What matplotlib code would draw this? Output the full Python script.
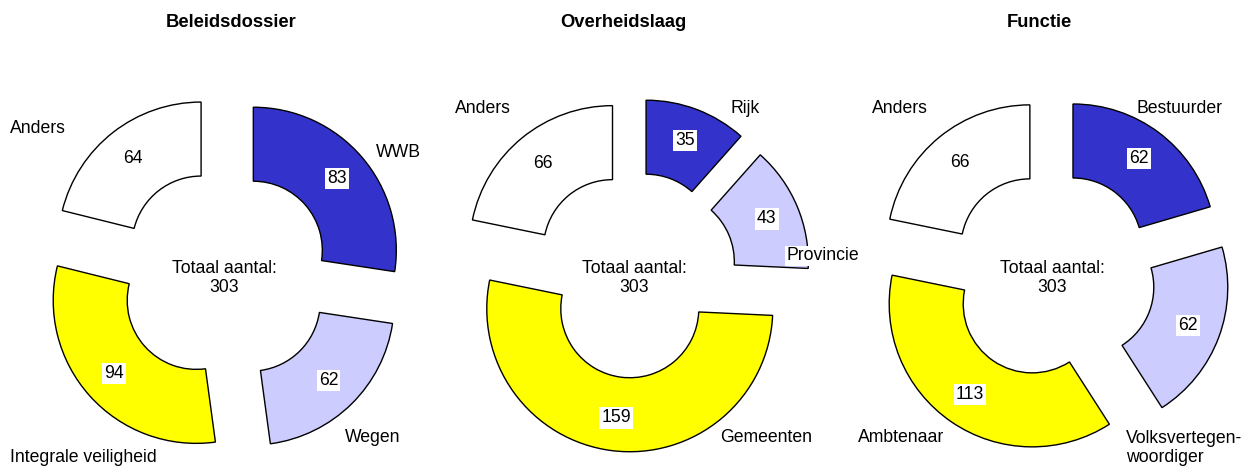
import matplotlib.pyplot as plt

plt.rcParams['font.family'] = ['Liberation Sans', 'DejaVu Sans']

titles = ['Beleidsdossier', 'Overheidslaag', 'Functie']

labels_1 = ['WWB', 'Wegen', 'Integrale veiligheid', 'Anders']
values_1 = [83, 62, 94, 64]

labels_2 = ['Rijk', 'Provincie', 'Gemeenten', 'Anders']
values_2 = [35, 43, 159, 66]

labels_3 = ['Bestuurder', 'Volksvertegen-\nwoordiger', 'Ambtenaar', 'Anders']
values_3 = [62, 62, 113, 66]

colors = ['#3333CC', '#CCCCFF', '#FFFF00', '#FFFFFF']

W, H = 1257, 469
fig = plt.figure(figsize=(W / 100, H / 100), dpi=100)
ax = fig.add_axes([0, 0, 1, 1])

# layout in pixel units (y measured from the top of the image)
centers = [(224.5, 275), (634, 275), (1052, 275)]
explodes = [38, 34, 35]
title_x = [231, 623, 1039]
label_pos = [
    [(376, 152), (345, 437), (10, 457), (10, 128)],
    [(731, 108), (786, 256), (720, 437), (455, 108)],
    [(1137, 108), (1126, 448), (858, 437), (872, 108)],
]
radius = 143
ring = 74
fs = 12.7

datasets = [(labels_1, values_1), (labels_2, values_2), (labels_3, values_3)]

for i, (labels, values) in enumerate(datasets):
    cx, cy = centers[i]
    total = sum(values)
    wedges, texts, autotexts = ax.pie(
        values, colors=colors, startangle=90, counterclock=False,
        center=(cx, H - cy), radius=radius, explode=[explodes[i]] * len(values),
        wedgeprops=dict(width=ring, edgecolor='black', linewidth=1),
        autopct=lambda p, t=total: f'{round(p * t / 100):d}', pctdistance=0.77,
        textprops=dict(fontsize=fs),
    )
    for t in autotexts:
        t.set_bbox(dict(facecolor='white', edgecolor='none', pad=1.5))
    for lab, (lx, ly) in zip(labels, label_pos[i]):
        bg = dict(facecolor='white', edgecolor='none', pad=1) if lab == 'Provincie' else None
        ax.text(lx, H - ly, lab, ha='left', va='center', fontsize=fs,
                linespacing=1.1, bbox=bg)
    ax.text(cx, H - 278, f'Totaal aantal:\n{total}', ha='center', va='center',
            fontsize=fs, linespacing=1.1)
    ax.text(title_x[i], H - 22, titles[i], ha='center', va='center',
            fontsize=13.2, fontweight='bold')

ax.set_xlim(0, W)
ax.set_ylim(0, H)
ax.set_aspect('equal')
ax.axis('off')

fig.savefig('out.png', dpi=100)
